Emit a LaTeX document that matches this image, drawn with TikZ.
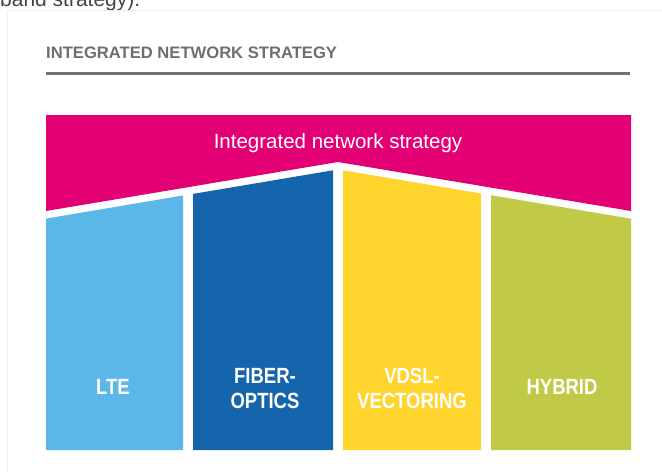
\documentclass[tikz,border=0pt]{standalone}
\usepackage{fontspec}
\setmainfont{Liberation Sans}
\newfontfamily\tagfont{Liberation Sans}[FakeStretch=0.84]
\definecolor{tmagenta}{HTML}{E20074}
\definecolor{lteblue}{HTML}{5BB7E8}
\definecolor{fiberblue}{HTML}{1565AC}
\definecolor{vdslyellow}{HTML}{FFD42D}
\definecolor{hybridgreen}{HTML}{C0CA46}
\definecolor{titlegray}{HTML}{6E6E6E}
\definecolor{rulegray}{HTML}{737373}
\definecolor{framegray}{HTML}{EEEEEE}
\definecolor{bodygray}{HTML}{444444}

\begin{document}
\begin{tikzpicture}
            [x=1pt, y=-1pt,
            tag/.style={text=white, font=\tagfont\bfseries\fontsize{22}{25}\selectfont, align=center, anchor=base},
            roof/.style={fill=tmagenta},
            frame/.style={framegray, line width=1pt}]

            \useasboundingbox (0,0) rectangle (662,472);

            % text of the page above the card
            \node[anchor=base west, inner sep=0pt, text=bodygray, font=\fontsize{21}{24}\selectfont] (above) at (0,6.5) {band strategy).};

            % card
            \draw[frame] (7,472) -- (7,10) -- (662,10);
            \node[anchor=base west, inner sep=0pt, text=titlegray, font=\bfseries\fontsize{16.6}{19}\selectfont] (title) at (46,58.5) {INTEGRATED NETWORK STRATEGY};
            \draw[rulegray, line width=3pt] (46,73.5) -- (630,73.5);

            % roof
            \coordinate (peak) at (338,162);
            \fill[roof] (46,115) -- (631,115) -- (631,211) -- (peak) -- (46,211) -- cycle;
            \node[anchor=base, inner sep=0pt, text=white, font=\fontsize{20.5}{24}\selectfont] (strategy) at (338,148.3) {Integrated network strategy};

            % columns
            \fill[lteblue] (46,450) -- (46,218.6) -- (183,195.5) -- (183,450) -- cycle;
            \fill[fiberblue] (193,450) -- (193,193.9) -- (333,170.3) -- (333,450) -- cycle;
            \fill[vdslyellow] (343,450) -- (343,170.3) -- (481,193.5) -- (481,450) -- cycle;
            \fill[hybridgreen] (491,450) -- (491,195.2) -- (631,218.7) -- (631,450) -- cycle;

            % labels for the columns
            \node[tag] (lte) at (113,394) {LTE};
            \node[tag] (fiber) at (265,408.3) {FIBER-\\OPTICS};
            \node[tag] (vdsl) at (412,408.3) {VDSL-\\VECTORING};
            \node[tag] (hybrid) at (562,394) {HYBRID};

        \end{tikzpicture}
\end{document}
